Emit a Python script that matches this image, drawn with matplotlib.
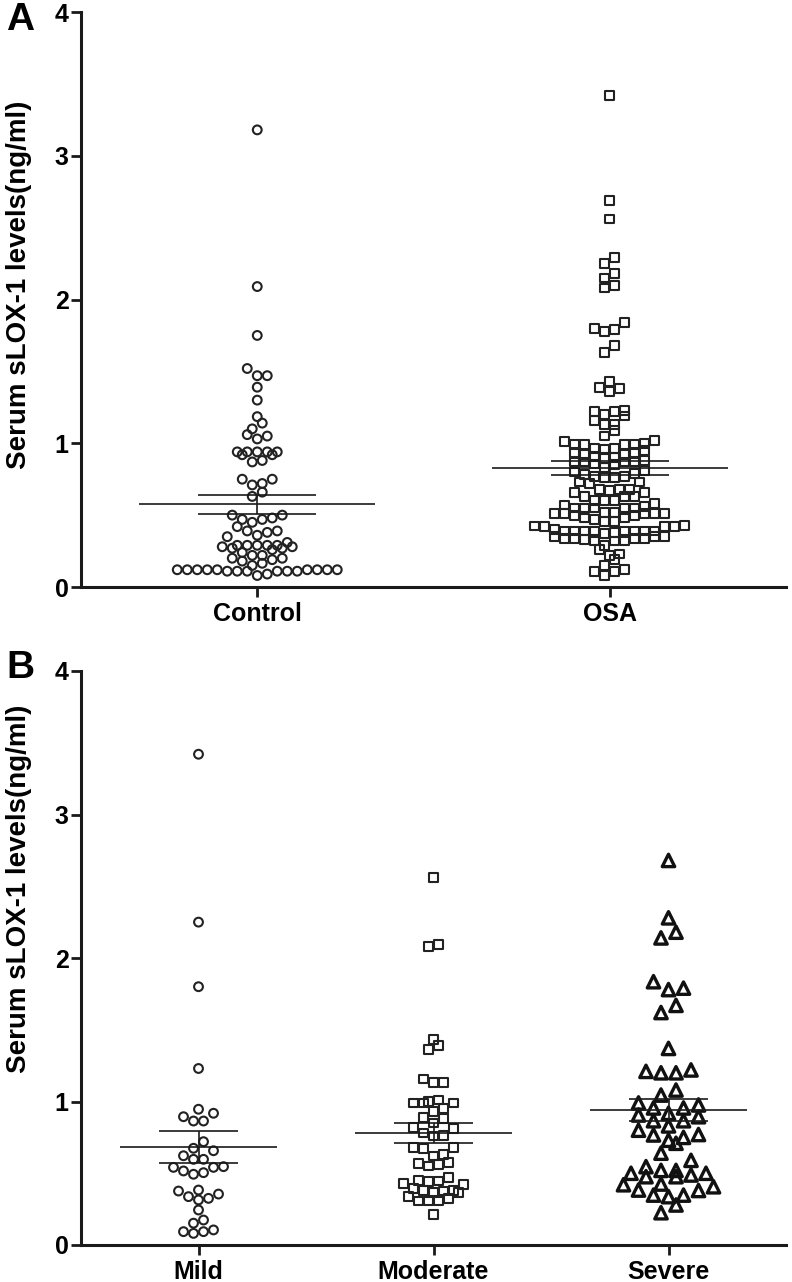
import numpy as np
import matplotlib
matplotlib.use("Agg")
import matplotlib.pyplot as plt

plt.rcParams['font.family'] = ['Liberation Sans', 'DejaVu Sans']
plt.rcParams['font.weight'] = 'bold'

# ---------------- data (ng/ml) ----------------
groups_a = ["Control", "OSA"]
groups_b = ["Mild", "Moderate", "Severe"]

control = [3.18, 2.09, 1.75, 1.52, 1.47, 1.47, 1.39, 1.30, 1.185, 1.14, 1.10, 1.06, 1.05, 1.03,
           0.94, 0.94, 0.94, 0.94, 0.87, 0.88, 0.92, 0.92, 0.94,
           0.75, 0.72, 0.71, 0.75, 0.66, 0.63,
           0.50, 0.50, 0.47, 0.47, 0.48, 0.45, 0.42, 0.38, 0.39, 0.39, 0.35, 0.36, 0.31,
           0.29, 0.29, 0.29, 0.28, 0.27, 0.24, 0.26, 0.27, 0.28, 0.29, 0.29,
           0.22, 0.20, 0.18, 0.165, 0.19, 0.20, 0.22,
           0.12, 0.12, 0.12, 0.12, 0.12, 0.12, 0.12, 0.12, 0.08, 0.09,
           0.11, 0.11, 0.11, 0.11, 0.11, 0.11, 0.12, 0.15]

osa = [3.42, 2.69, 2.56, 2.29, 2.25, 2.18, 2.15, 2.10, 2.08, 1.84, 1.79, 1.78, 1.80, 1.68, 1.63,
       1.43, 1.39, 1.36, 1.38,
       1.22, 1.20, 1.19, 1.22, 1.23, 1.16, 1.13, 1.13, 1.09, 1.05,
       1.02, 1.00, 1.01, 0.99, 0.99, 0.99, 0.99, 0.965, 0.96, 0.965, 0.95, 0.935, 0.92, 0.92,
       0.935, 0.91, 0.90, 0.895, 0.88, 0.87, 0.87, 0.87, 0.87, 0.855, 0.85,
       0.83, 0.80, 0.81, 0.78, 0.79, 0.77, 0.76, 0.76, 0.77,
       0.73, 0.73, 0.72, 0.68, 0.68, 0.67, 0.68, 0.66, 0.66, 0.63, 0.63, 0.63, 0.60, 0.60, 0.60,
       0.58, 0.57, 0.56, 0.55, 0.55, 0.55, 0.55, 0.55, 0.52, 0.52,
       0.51, 0.51, 0.51, 0.50, 0.48, 0.455, 0.455, 0.47, 0.48, 0.50, 0.51, 0.51,
       0.42, 0.42, 0.42, 0.39, 0.39, 0.39, 0.39, 0.39, 0.37, 0.38, 0.39, 0.39, 0.39, 0.40,
       0.425, 0.43,
       0.35, 0.35, 0.33, 0.34, 0.32, 0.29, 0.32, 0.32, 0.34, 0.34, 0.34, 0.35,
       0.26, 0.22, 0.23, 0.19, 0.15, 0.11, 0.08, 0.11, 0.12]

mild = [3.42, 2.25, 1.80, 1.23,
        0.946, 0.894, 0.864, 0.864, 0.918,
        0.72, 0.674, 0.657, 0.622, 0.597, 0.597,
        0.541, 0.541, 0.504, 0.493, 0.516, 0.546,
        0.376, 0.337, 0.314, 0.325, 0.355, 0.383,
        0.244, 0.152, 0.174, 0.093, 0.081, 0.093, 0.105]

moderate = [2.56, 2.095, 2.08, 1.43, 1.39, 1.36, 1.157, 1.13, 1.13,
            0.99, 0.99, 1.01, 0.93, 0.95, 0.99, 1.00,
            0.88, 0.89, 0.85, 0.82, 0.81, 0.78, 0.76, 0.765,
            0.68, 0.67, 0.68, 0.63, 0.62, 0.57, 0.55, 0.56, 0.576,
            0.47, 0.45, 0.44, 0.43, 0.42, 0.446,
            0.395, 0.38, 0.38, 0.376, 0.37, 0.367,
            0.325, 0.307, 0.307, 0.307, 0.337, 0.21]

severe = [2.68, 2.28, 2.14, 2.18, 1.79, 1.78, 1.835, 1.62, 1.67, 1.37,
          1.22, 1.20, 1.20, 1.21, 1.08, 1.045,
          0.976, 0.955, 0.955, 0.99, 0.918,
          0.894, 0.866, 0.83, 0.866, 0.906,
          0.767, 0.75, 0.709, 0.73, 0.77, 0.80,
          0.64, 0.59,
          0.52, 0.50, 0.488, 0.476, 0.476, 0.50, 0.52, 0.546,
          0.425, 0.406, 0.383, 0.348, 0.337, 0.348, 0.38, 0.42,
          0.279, 0.225]

means_a = [0.575, 0.826]
sems_a = [0.065, 0.048]
means_b = [0.683, 0.78, 0.94]
sems_b = [0.114, 0.067, 0.078]

ylabel = "Serum sLOX-1 levels(ng/ml)"

# ---------------- figure ----------------
W, H = 792, 1282
fig = plt.figure(figsize=(W / 100, H / 100), dpi=100)
axA = fig.add_axes([81 / W, (H - 587) / H, 705 / W, 575 / H])
axB = fig.add_axes([81 / W, (H - 1245) / H, 705 / W, 574 / H])

EDGE = "#222222"


def swarm_x(values, center, row_px, step_px, ax):
    """GraphPad-like scatter: group values into rows, spread each row sideways."""
    pos = ax.get_position()
    x0, x1 = ax.get_xlim()
    y0, y1 = ax.get_ylim()
    px_x = pos.width * W / (x1 - x0)
    px_y = pos.height * H / (y1 - y0)
    row_h = row_px / px_y
    step = step_px / px_x
    vals = np.asarray(values, float)
    order = np.argsort(vals, kind="stable")
    v = vals[order]
    off = np.zeros(len(v))
    i = 0
    while i < len(v):
        j = i
        while j < len(v) and v[j] - v[i] < row_h:
            j += 1
        n = j - i
        slots = np.array([((k + 1) // 2) * (1 if k % 2 == 1 else -1) for k in range(n)], float)
        slots -= slots.mean()
        off[i:j] = slots * step
        i = j
    xs = np.empty(len(v))
    xs[order] = center + off
    return xs


def style_axis(ax, labels, label_y):
    ax.set_ylim(0, 4)
    ax.spines['top'].set_visible(False)
    ax.spines['right'].set_visible(False)
    for s in ('left', 'bottom'):
        ax.spines[s].set_linewidth(2.2)
        ax.spines[s].set_color('#1a1a1a')
    ax.spines['left'].set_bounds(0, 4)
    ax.set_yticks([0, 1, 2, 3, 4])
    ax.set_xticks(range(len(labels)))
    ax.set_xticklabels(labels)
    ax.tick_params(axis='both', length=7, width=2, color='#1a1a1a', labelsize=18, pad=2)
    ax.tick_params(axis='x', pad=4)
    for t in ax.get_xticklabels() + ax.get_yticklabels():
        t.set_fontweight('bold')
    ax.set_ylabel(ylabel, fontsize=20, fontweight='bold')
    ax.yaxis.set_label_coords(-0.069, label_y)


def mean_sem(ax, x, m, s):
    ax.hlines(m, x - 0.335, x + 0.335, color='#1a1a1a', lw=1.2, zorder=4)
    ax.hlines([m - s, m + s], x - 0.167, x + 0.167, color='#1a1a1a', lw=1.2, zorder=4)
    ax.vlines(x, m - s, m + s, color='#1a1a1a', lw=1.2, zorder=4)


# Panel A
axA.set_xlim(-0.5, 1.5)
axA.set_ylim(0, 4)
xa = swarm_x(control, 0, 9, 10, axA)
axA.scatter(xa, control, s=40, marker='o', facecolors='none', edgecolors=EDGE, linewidths=1.5, zorder=3)
xo = swarm_x(osa, 1, 9, 10, axA)
axA.scatter(xo, osa, s=40, marker='s', facecolors='none', edgecolors=EDGE, linewidths=1.5, zorder=3)
for i in range(2):
    mean_sem(axA, i, means_a[i], sems_a[i])
style_axis(axA, groups_a, 0.525)

# Panel B
axB.set_xlim(-0.5, 2.5)
axB.set_ylim(0, 4)
xm = swarm_x(mild, 0, 9, 10, axB)
axB.scatter(xm, mild, s=40, marker='o', facecolors='none', edgecolors=EDGE, linewidths=1.5, zorder=3)
xmo = swarm_x(moderate, 1, 9, 10, axB)
axB.scatter(xmo, moderate, s=40, marker='s', facecolors='none', edgecolors=EDGE, linewidths=1.5, zorder=3)
xs = swarm_x(severe, 2, 12, 15, axB)
axB.scatter(xs, severe, s=80, marker='^', facecolors='none', edgecolors='#111111', linewidths=2.4, zorder=3)
for i in range(3):
    mean_sem(axB, i, means_b[i], sems_b[i])
style_axis(axB, groups_b, 0.62)

fig.text(6 / W, 1 - 2 / H, "A", fontsize=28, fontweight='bold', va='top', ha='left')
fig.text(6 / W, 1 - 650 / H, "B", fontsize=28, fontweight='bold', va='top', ha='left')

fig.savefig("out.png", dpi=100)
